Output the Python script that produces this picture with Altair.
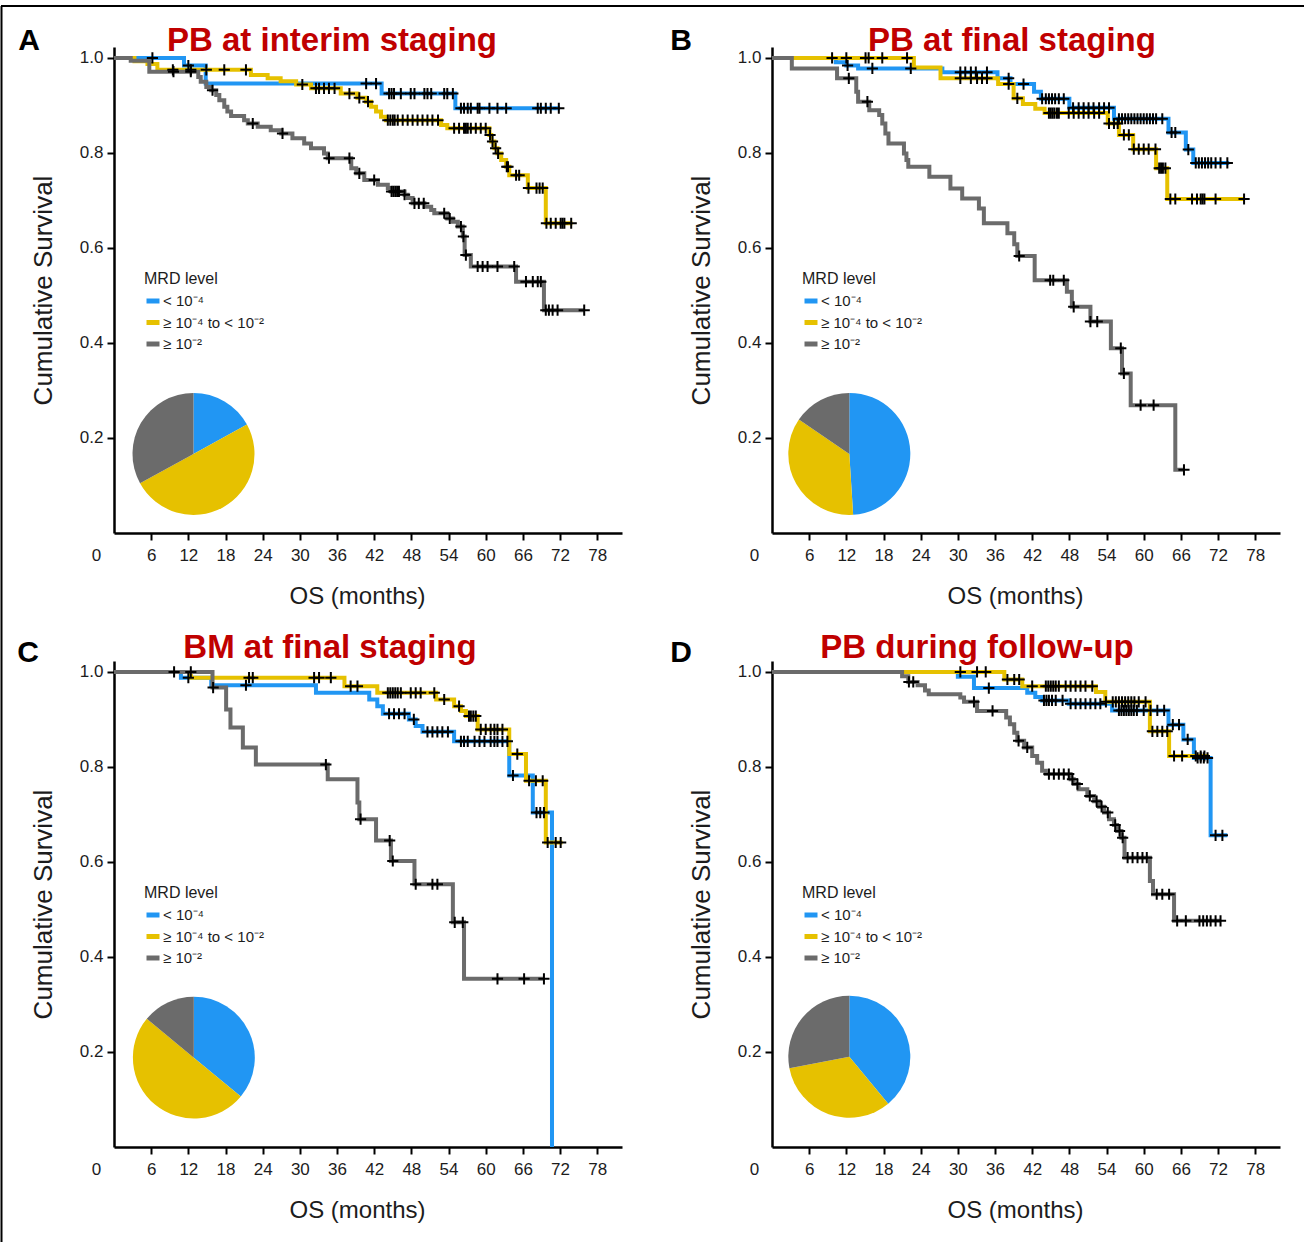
import altair as alt
import pandas as pd

# ---------------------------------------------------------------- categories
GROUPS = ["< 10⁻⁴", "≥ 10⁻⁴ to < 10⁻²", "≥ 10⁻²"]
COLORS = ["#2196F3", "#E6C100", "#6B6B6B"]
LETTERS = ["A", "B", "C", "D"]
TITLES = ["PB at interim staging", "PB at final staging",
          "BM at final staging", "PB during follow-up"]
X_TICKS = [0, 6, 12, 18, 24, 30, 36, 42, 48, 54, 60, 66, 72, 78]
Y_TICKS = [0.2, 0.4, 0.6, 0.8, 1.0]

# ---------------------------------------------------------------- panel A: PB at interim staging
A_BLUE_T = [11.3, 14.8, 43.2, 55.1]
A_BLUE_S = [0.984, 0.946, 0.925, 0.894]
A_BLUE_END = 72.0
A_BLUE_CENS = [6.2, 12.0, 40.7, 42.3, 44.4, 44.8, 45.2, 46.3, 47.9, 48.5, 50.1, 50.6,
               51.2, 53.3, 53.8, 54.7, 56.0, 56.5, 57.1, 57.6, 58.7, 59.0, 60.6, 61.9,
               63.3, 68.4, 68.9, 69.7, 70.5, 71.8]

A_YELLOW_T = [3.3, 5.4, 7.0, 22.1, 24.8, 26.9, 29.4, 31.8, 36.6, 39.3, 40.7, 41.5, 42.3,
              43.1, 43.9, 52.8, 53.8, 60.6, 60.9, 61.4, 61.9, 62.5, 63.3, 63.8, 66.8, 69.7]
A_YELLOW_S = [0.993, 0.987, 0.975, 0.964, 0.957, 0.951, 0.944, 0.936, 0.925, 0.916, 0.908,
              0.897, 0.887, 0.876, 0.869, 0.859, 0.852, 0.838, 0.824, 0.810, 0.799, 0.785,
              0.771, 0.753, 0.726, 0.652]
A_YELLOW_END = 74.0
A_YELLOW_CENS = [9.5, 12.4, 14.9, 17.8, 21.3, 30.4, 32.6, 33.1, 33.9, 34.7, 35.6, 38.0,
                 39.6, 41.0, 44.2, 44.6, 45.0, 45.3, 45.8, 46.6, 47.4, 48.2, 49.0, 49.8,
                 50.6, 51.4, 52.3, 54.9, 55.7, 56.5, 56.8, 57.1, 57.6, 58.4, 59.2, 60.0,
                 60.7, 61.1, 61.6, 62.0, 63.4, 63.6, 64.9, 65.4, 66.9, 68.2, 68.7, 69.2,
                 69.8, 70.5, 71.3, 72.1, 72.4, 72.7, 73.8]

A_GRAY_T = [2.7, 5.7, 13.6, 14.0, 14.9, 15.7, 16.5, 17.0, 17.8, 18.3, 18.9, 21.0, 21.6,
            23.2, 25.3, 27.0, 28.8, 30.7, 31.8, 33.9, 34.5, 38.3, 39.1, 40.4, 42.6, 44.2,
            44.7, 46.9, 47.4, 48.2, 50.1, 51.2, 51.7, 53.8, 54.7, 55.5, 56.3, 56.6, 57.6,
            64.9, 69.4]
A_GRAY_S = [0.994, 0.971, 0.960, 0.950, 0.939, 0.932, 0.922, 0.911, 0.897, 0.887, 0.878,
            0.869, 0.862, 0.855, 0.848, 0.841, 0.831, 0.820, 0.810, 0.799, 0.789, 0.768,
            0.757, 0.743, 0.733, 0.726, 0.719, 0.712, 0.705, 0.694, 0.687, 0.680, 0.673,
            0.662, 0.655, 0.645, 0.624, 0.585, 0.561, 0.529, 0.469]
A_GRAY_END = 75.9
A_GRAY_CENS = [9.6, 12.4, 15.9, 22.4, 27.2, 34.7, 38.0, 39.6, 42.0, 44.8, 45.1, 45.4,
               45.7, 46.0, 46.9, 48.5, 49.2, 50.0, 53.3, 54.2, 56.0, 56.4, 56.8, 58.7,
               59.5, 60.3, 61.9, 64.6, 66.5, 67.6, 68.4, 68.9, 69.7, 70.2, 70.8, 71.6, 75.9]

A_PIE = [0.17, 0.50, 0.33]

# ---------------------------------------------------------------- panel B: PB at final staging
B_BLUE_T = [10.3, 12.0, 13.9, 27.5, 36.4, 38.5, 42.3, 43.4, 48.0, 55.2, 64.0, 66.8, 68.0]
B_BLUE_S = [0.991, 0.984, 0.978, 0.970, 0.957, 0.945, 0.929, 0.914, 0.895, 0.872, 0.843,
            0.807, 0.779]
B_BLUE_END = 73.8
B_BLUE_CENS = [12.2, 16.2, 22.4, 30.4, 31.2, 32.1, 32.9, 34.7, 38.2, 40.6, 43.6, 44.2,
               44.7, 45.2, 45.7, 46.3, 47.1, 48.6, 49.5, 50.3, 51.1, 51.9, 52.8, 53.6,
               54.4, 56.0, 56.5, 57.0, 57.5, 58.0, 58.5, 59.0, 59.5, 60.0, 60.5, 61.0,
               61.5, 62.0, 63.0, 64.5, 65.1, 67.2, 68.4, 68.9, 69.4, 69.9, 70.4, 70.9,
               71.6, 72.4, 73.5]

B_YELLOW_T = [22.9, 27.2, 36.5, 39.0, 40.5, 42.5, 44.0, 54.2, 56.0, 58.3, 62.0, 63.8]
B_YELLOW_S = [0.980, 0.957, 0.945, 0.915, 0.903, 0.893, 0.884, 0.862, 0.838, 0.808, 0.768,
              0.703]
B_YELLOW_END = 76.2
B_YELLOW_CENS = [9.7, 12.0, 15.1, 15.6, 17.8, 21.8, 30.4, 32.1, 33.1, 33.9, 34.7, 38.2,
                 39.6, 44.7, 45.0, 45.3, 45.6, 46.0, 46.3, 47.9, 48.7, 49.5, 50.3, 51.1,
                 52.0, 52.8, 54.4, 55.2, 55.8, 56.8, 57.6, 58.4, 59.2, 60.0, 60.8, 61.9,
                 62.5, 62.8, 63.1, 63.5, 64.3, 65.1, 67.8, 68.6, 69.2, 69.5, 69.8, 71.6, 76.2]

B_GRAY_T = [3.2, 10.5, 13.6, 13.9, 15.7, 17.3, 17.8, 18.3, 18.8, 21.3, 21.7, 22.0, 25.4,
            28.8, 30.7, 33.4, 34.2, 38.0, 39.1, 39.6, 42.4, 47.6, 48.4, 51.4, 54.7, 56.5,
            57.9, 65.1]
B_GRAY_S = [0.978, 0.957, 0.929, 0.908, 0.890, 0.880, 0.862, 0.841, 0.820, 0.799, 0.785,
            0.771, 0.750, 0.725, 0.704, 0.683, 0.652, 0.631, 0.608, 0.583, 0.532, 0.508,
            0.476, 0.445, 0.389, 0.336, 0.269, 0.133]
B_GRAY_END = 66.5
B_GRAY_CENS = [12.4, 15.4, 39.9, 44.9, 45.4, 47.1, 48.7, 51.4, 52.5, 56.3, 56.8, 59.5,
               61.6, 66.5]

B_PIE = [0.49, 0.355, 0.155]

# ---------------------------------------------------------------- panel C: BM at final staging
C_BLUE_T = [10.8, 15.7, 32.6, 41.2, 42.5, 43.4, 47.6, 48.7, 49.8, 54.9, 63.8, 67.6, 70.7]
C_BLUE_S = [0.988, 0.972, 0.956, 0.942, 0.928, 0.912, 0.900, 0.886, 0.874, 0.854, 0.782,
            0.704, 0.0]
C_BLUE_END = 70.7
C_BLUE_CENS = [12.0, 21.3, 44.4, 45.2, 46.0, 46.9, 48.4, 50.6, 51.4, 52.2, 53.0, 53.9,
               56.0, 56.5, 57.1, 58.2, 59.0, 59.8, 60.8, 61.4, 61.9, 62.7, 63.5, 64.4,
               68.2, 68.8, 69.4]

C_YELLOW_T = [12.4, 37.2, 42.5, 52.0, 54.9, 56.0, 56.8, 58.7, 63.8, 66.5, 69.7]
C_YELLOW_S = [0.988, 0.970, 0.956, 0.942, 0.928, 0.918, 0.907, 0.879, 0.827, 0.771, 0.641]
C_YELLOW_END = 72.4
C_YELLOW_CENS = [21.8, 22.4, 32.3, 33.1, 35.0, 38.2, 39.3, 44.2, 44.6, 45.0, 45.4, 45.8,
                 46.3, 47.9, 48.7, 49.5, 51.7, 53.3, 55.7, 57.3, 57.6, 58.0, 58.4, 59.2,
                 60.0, 60.8, 61.4, 61.9, 62.7, 65.1, 67.0, 68.1, 69.2, 70.0, 71.3, 72.1]

C_GRAY_T = [15.9, 18.1, 18.8, 20.8, 22.9, 34.5, 39.3, 39.6, 42.3, 44.7, 48.5, 54.7, 56.5]
C_GRAY_S = [0.967, 0.921, 0.883, 0.841, 0.805, 0.774, 0.725, 0.690, 0.645, 0.602, 0.553,
            0.473, 0.354]
C_GRAY_END = 69.4
C_GRAY_CENS = [9.7, 12.4, 16.0, 34.2, 39.8, 44.5, 45.0, 48.7, 51.4, 52.2, 55.0, 56.3,
               61.9, 66.2, 69.4]

C_PIE = [0.36, 0.50, 0.14]

# ---------------------------------------------------------------- panel D: PB during follow-up
D_BLUE_T = [30.0, 32.6, 41.2, 42.5, 43.6, 47.9, 54.9, 64.0, 66.4, 68.1, 70.8]
D_BLUE_S = [0.990, 0.966, 0.956, 0.947, 0.940, 0.933, 0.919, 0.889, 0.858, 0.819, 0.656]
D_BLUE_END = 73.5
D_BLUE_CENS = [35.0, 43.9, 44.3, 44.7, 45.2, 45.8, 46.9, 48.2, 49.0, 49.8, 50.6, 51.4,
               52.2, 53.0, 56.0, 56.4, 56.8, 57.2, 57.6, 58.0, 58.4, 58.9, 60.0, 61.1,
               62.2, 63.3, 64.7, 65.7, 67.1, 68.7, 69.2, 69.7, 70.3, 71.6, 72.7]

D_YELLOW_T = [37.5, 40.4, 52.3, 53.8, 61.0, 64.1]
D_YELLOW_S = [0.984, 0.970, 0.958, 0.937, 0.875, 0.823]
D_YELLOW_END = 70.5
D_YELLOW_CENS = [30.4, 33.1, 34.5, 38.0, 39.1, 39.9, 42.0, 44.2, 44.6, 45.0, 45.4, 45.8,
                 46.3, 47.4, 48.2, 49.0, 49.8, 50.6, 51.7, 53.9, 55.0, 55.5, 56.0, 56.5,
                 57.0, 57.5, 58.0, 58.5, 59.2, 60.3, 61.4, 62.2, 63.0, 63.8, 64.9, 66.2,
                 68.4, 69.2, 69.8]

D_GRAY_T = [21.0, 22.0, 23.5, 24.7, 25.3, 30.4, 31.0, 33.1, 37.8, 38.4, 39.1, 39.6, 40.7,
            42.0, 42.8, 43.6, 44.2, 48.2, 48.7, 49.5, 50.9, 52.0, 52.8, 53.6, 54.4, 55.2,
            55.7, 56.4, 56.9, 61.0, 61.5, 64.9]
D_GRAY_S = [0.991, 0.979, 0.972, 0.961, 0.953, 0.946, 0.937, 0.918, 0.904, 0.890, 0.872,
            0.855, 0.841, 0.823, 0.809, 0.792, 0.785, 0.774, 0.764, 0.753, 0.739, 0.728,
            0.716, 0.704, 0.690, 0.678, 0.665, 0.651, 0.609, 0.560, 0.532, 0.476]
D_GRAY_END = 72.4
D_GRAY_CENS = [22.1, 22.8, 32.6, 35.6, 39.8, 41.2, 44.7, 45.5, 46.3, 47.1, 47.9, 48.5,
               49.3, 51.3, 52.4, 53.2, 54.2, 55.4, 56.1, 56.6, 57.4, 58.2, 59.0, 59.8,
               60.5, 62.1, 63.0, 64.1, 65.4, 66.8, 69.0, 69.6, 70.2, 70.8, 71.6, 72.4]

D_PIE = [0.39, 0.33, 0.28]

# ---------------------------------------------------------------- styling
SANS = "Liberation Sans, Arial, Helvetica, sans-serif"
RED = "#C00000"
INK = "#1c1c1c"
W, H = 508, 486
X_DOMAIN = [0, 82]
Y_DOMAIN = [0, 1.023]
PLUS = "M-1,0L1,0M0,-1L0,1"


def step_value(times, surv, t):
    """Survival of a Kaplan-Meier step curve at time t."""
    s = 1.0
    for ti, si in zip(times, surv):
        if ti <= t:
            s = si
        else:
            break
    return s


def build_panel(idx, curves, pie_share, pie_center, letter_pos, title_pos, frame=False):
    line_rows, cens_rows = [], []
    for g, (times, surv, end, cens) in zip(GROUPS, curves):
        pts = [(0.0, 1.0)] + list(zip(times, surv))
        if surv[-1] > 0:
            pts.append((end, surv[-1]))
        for k, (m, v) in enumerate(pts):
            line_rows.append({"group": g, "month": m, "surv": v, "seq": k})
        for c in cens:
            cens_rows.append({"group": g, "month": c, "surv": step_value(times, surv, c)})

    color_scale = alt.Scale(domain=GROUPS, range=COLORS)
    x_scale = alt.Scale(domain=X_DOMAIN, nice=False, zero=False)
    y_scale = alt.Scale(domain=Y_DOMAIN, nice=False, zero=False)

    x_axis = alt.Axis(
        values=X_TICKS, tickCount=30, title="OS (months)", grid=False,
        domainColor="black", domainWidth=2.5,
        tickColor="black", tickWidth=2, tickSize=7,
        tickOpacity={"condition": {"test": "datum.value == 0", "value": 0}, "value": 1},
        labelOffset={"condition": {"test": "datum.value == 0", "value": -18}, "value": 0},
        labelFlush=False, labelOverlap=False,
        labelFont=SANS, labelFontSize=17, labelColor=INK, labelPadding=7,
        titleFont=SANS, titleFontSize=24, titleFontWeight="normal", titleColor=INK,
        titlePadding=21, titleX=243,
    )
    y_axis = alt.Axis(
        values=Y_TICKS, tickCount=10, format=".1f", title="Cumulative Survival", grid=False,
        domainColor="black", domainWidth=2.5,
        tickColor="black", tickWidth=2, tickSize=7,
        labelFont=SANS, labelFontSize=17, labelColor=INK, labelPadding=4,
        titleFont=SANS, titleFontSize=26, titleFontWeight="normal", titleColor=INK,
        titlePadding=22.5,
    )
    legend = alt.Legend(
        orient="none", legendX=30, legendY=224, padding=0,
        title="MRD level", titleFont=SANS, titleFontSize=16, titleFontWeight="normal",
        titleColor=INK, titlePadding=5,
        labelFont=SANS, labelFontSize=15, labelColor=INK, labelOffset=1,
        symbolType="stroke", symbolStrokeWidth=5, symbolSize=169, rowPadding=1.5,
    )

    lines = alt.Chart(pd.DataFrame(line_rows)).mark_line(
        interpolate="step-after", strokeWidth=4
    ).encode(
        x=alt.X("month:Q", scale=x_scale, axis=x_axis),
        y=alt.Y("surv:Q", scale=y_scale, axis=y_axis),
        color=alt.Color("group:N", scale=color_scale, legend=legend, sort=GROUPS),
        order=alt.Order("seq:Q"),
    )

    censors = alt.Chart(pd.DataFrame(cens_rows)).mark_point(
        shape=PLUS, size=125, strokeWidth=2, filled=False, color="black", opacity=1
    ).encode(
        x=alt.X("month:Q", scale=x_scale, axis=x_axis),
        y=alt.Y("surv:Q", scale=y_scale, axis=y_axis),
    )

    pie_df = pd.DataFrame({"group": GROUPS, "share": pie_share, "k": [0, 1, 2]})
    pie = alt.Chart(pie_df).mark_arc(radius=61).encode(
        theta=alt.Theta("share:Q", stack=True),
        color=alt.Color("group:N", scale=color_scale, legend=legend, sort=GROUPS),
        order=alt.Order("k:Q"),
        x=alt.datum(pie_center[0]),
        y=alt.datum(pie_center[1]),
    )

    one = pd.DataFrame({"k": [0]})
    letter = alt.Chart(one).mark_text(
        text=LETTERS[idx], font=SANS, fontSize=30, fontWeight="bold", color="black",
        align="center", baseline="alphabetic",
    ).encode(x=alt.value(letter_pos[0]), y=alt.value(letter_pos[1]))
    heading = alt.Chart(one).mark_text(
        text=TITLES[idx], font=SANS, fontSize=33, fontWeight="bold", color=RED,
        align="center", baseline="alphabetic",
    ).encode(x=alt.value(title_pos[0]), y=alt.value(title_pos[1]))

    layers = [pie, lines, censors, letter, heading]
    if frame:
        # thin border along the top and left edge of the figure
        top = alt.Chart(one).mark_rule(color="black", strokeWidth=2).encode(
            x=alt.value(-113), x2=alt.value(1190), y=alt.value(-41.1))
        left = alt.Chart(one).mark_rule(color="black", strokeWidth=2).encode(
            x=alt.value(-112.5), y=alt.value(-41.1), y2=alt.value(1194.9))
        layers += [top, left]
    return alt.layer(*layers).properties(width=W, height=H)


panel_a = build_panel(
    0,
    [(A_BLUE_T, A_BLUE_S, A_BLUE_END, A_BLUE_CENS),
     (A_YELLOW_T, A_YELLOW_S, A_YELLOW_END, A_YELLOW_CENS),
     (A_GRAY_T, A_GRAY_S, A_GRAY_END, A_GRAY_CENS)],
    A_PIE, (12.83, 0.1665), (-85, 2.5), (218, 4.4), frame=True)
panel_b = build_panel(
    1,
    [(B_BLUE_T, B_BLUE_S, B_BLUE_END, B_BLUE_CENS),
     (B_YELLOW_T, B_YELLOW_S, B_YELLOW_END, B_YELLOW_CENS),
     (B_GRAY_T, B_GRAY_S, B_GRAY_END, B_GRAY_CENS)],
    B_PIE, (12.48, 0.1665), (-91, 2.5), (240, 4.4))
panel_c = build_panel(
    2,
    [(C_BLUE_T, C_BLUE_S, C_BLUE_END, C_BLUE_CENS),
     (C_YELLOW_T, C_YELLOW_S, C_YELLOW_END, C_YELLOW_CENS),
     (C_GRAY_T, C_GRAY_S, C_GRAY_END, C_GRAY_CENS)],
    C_PIE, (12.88, 0.188), (-86, 0.8), (216, -3.1))
panel_d = build_panel(
    3,
    [(D_BLUE_T, D_BLUE_S, D_BLUE_END, D_BLUE_CENS),
     (D_YELLOW_T, D_YELLOW_S, D_YELLOW_END, D_YELLOW_CENS),
     (D_GRAY_T, D_GRAY_S, D_GRAY_END, D_GRAY_CENS)],
    D_PIE, (12.48, 0.190), (-91, 0.8), (205, -3.1))

chart = alt.concat(
    panel_a, panel_b, panel_c, panel_d,
    columns=2, spacing={"row": 128, "column": 150}, bounds="flush",
).resolve_scale(color="independent").resolve_legend(color="independent").properties(
    padding={"left": 0, "top": 4, "right": 0, "bottom": 0},
    background="white",
).configure(font=SANS).configure_view(strokeWidth=0, strokeOpacity=0)

chart.save("out.html", embed_options={"renderer": "svg", "actions": False})
